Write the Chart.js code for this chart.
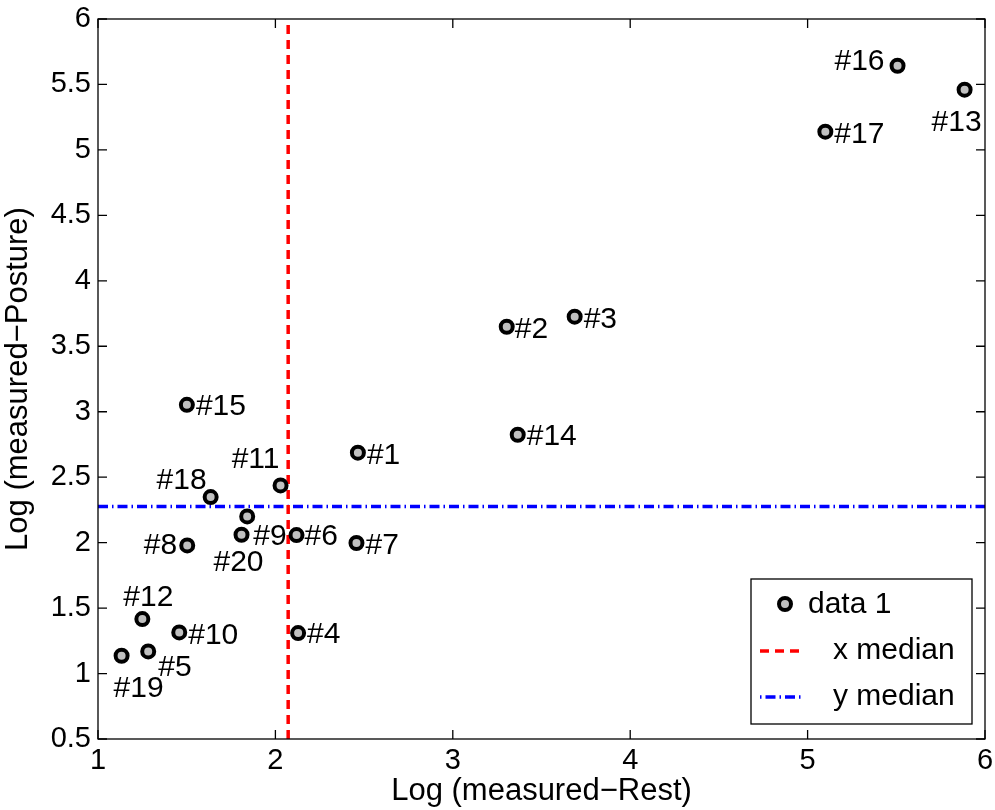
<!DOCTYPE html>
<html>
<head>
<meta charset="utf-8">
<script src="https://cdn.jsdelivr.net/npm/chart.js@4.4.1/dist/chart.umd.min.js"></script>
<style>
  html, body { margin: 0; padding: 0; background: #fff; }
  #wrap { width: 995px; height: 810px; }
</style>
</head>
<body>
<div id="wrap"><canvas id="chart" width="995" height="810"></canvas></div>
<script>
// 点のラベルとデータ
const pointNames = ['#1', '#2', '#3', '#4', '#5', '#6', '#7', '#8', '#9', '#10',
  '#11', '#12', '#13', '#14', '#15', '#16', '#17', '#18', '#19', '#20'];
const restValues = [2.465, 3.304, 3.687, 2.128, 1.283, 2.119, 2.457, 1.503, 1.841, 1.458,
  2.029, 1.250, 5.885, 3.366, 1.501, 5.507, 5.100, 1.635, 1.133, 1.809];
const postureValues = [2.687, 3.649, 3.726, 1.309, 1.169, 2.058, 1.997, 1.979, 2.200, 1.314,
  2.437, 1.416, 5.460, 2.824, 3.053, 5.643, 5.139, 2.348, 1.136, 2.060];
const xMedian = 2.072;
const yMedian = 2.276;
const xTicks = [1, 2, 3, 4, 5, 6];
const yTicks = [0.5, 1, 1.5, 2, 2.5, 3, 3.5, 4, 4.5, 5, 5.5, 6];
const seriesNames = ['data 1', 'x median', 'y median'];

// ラベルの置き方 (点からのずれ, px)
const labelPlace = {
  '#1': [9, 3, 'left'], '#2': [8, 3, 'left'], '#3': [9, 3, 'left'], '#4': [9, 2, 'left'],
  '#5': [10, 16, 'left'], '#6': [8, 2, 'left'], '#7': [9, 3, 'left'], '#8': [-10, 0, 'right'],
  '#9': [6, 20, 'left'], '#10': [9, 3, 'left'], '#11': [-25, -26, 'center'], '#12': [6, -21, 'center'],
  '#13': [-8, 33, 'center'], '#14': [9, 2, 'left'], '#15': [9, 2, 'left'], '#16': [-13, -4, 'right'],
  '#17': [9, 3, 'left'], '#18': [-29, -16, 'center'], '#19': [17, 33, 'center'], '#20': [-3, 28, 'center']
};

const FONT = '"Liberation Sans", Arial, Helvetica, sans-serif';

const scatterData = restValues.map((v, i) => ({ x: v, y: postureValues[i] }));

// 枠, 内向きの目盛, 点ラベル, 凡例を描く
const matlabPlugin = {
  id: 'matlabLook',
  afterDatasetsDraw(chart) {
    const ctx = chart.ctx;
    const a = chart.chartArea;
    const xs = chart.scales.x, ys = chart.scales.y;
    ctx.save();
    // point labels
    ctx.font = '30px ' + FONT;
    ctx.fillStyle = '#000';
    ctx.textBaseline = 'middle';
    scatterData.forEach((p, i) => {
      const name = pointNames[i];
      const pl = labelPlace[name];
      ctx.textAlign = pl[2];
      ctx.fillText(name, xs.getPixelForValue(p.x) + pl[0], ys.getPixelForValue(p.y) + pl[1]);
    });
    // box
    ctx.strokeStyle = '#000';
    ctx.lineWidth = 1.3;
    ctx.strokeRect(a.left, a.top, a.right - a.left, a.bottom - a.top);
    const tl = 9;
    ctx.beginPath();
    xTicks.forEach(v => {
      const px = xs.getPixelForValue(v);
      ctx.moveTo(px, a.bottom); ctx.lineTo(px, a.bottom - tl);
      ctx.moveTo(px, a.top); ctx.lineTo(px, a.top + tl);
    });
    yTicks.forEach(v => {
      const py = ys.getPixelForValue(v);
      ctx.moveTo(a.left, py); ctx.lineTo(a.left + tl, py);
      ctx.moveTo(a.right, py); ctx.lineTo(a.right - tl, py);
    });
    ctx.stroke();

    // legend
    const lx = a.right - 234, ly = a.bottom - 160, lw = 221, lh = 145;
    ctx.fillStyle = '#fff';
    ctx.fillRect(lx, ly, lw, lh);
    ctx.strokeStyle = '#000';
    ctx.lineWidth = 1.3;
    ctx.strokeRect(lx, ly, lw, lh);
    ctx.font = '30px ' + FONT;
    ctx.fillStyle = '#000';
    ctx.textAlign = 'left';
    // data 1
    ctx.beginPath();
    ctx.arc(lx + 34, ly + 25, 6, 0, Math.PI * 2);
    ctx.fillStyle = '#c0c0c0';
    ctx.fill();
    ctx.lineWidth = 4;
    ctx.strokeStyle = '#000';
    ctx.stroke();
    ctx.fillStyle = '#000';
    ctx.fillText(seriesNames[0], lx + 57, ly + 26);
    // x median
    ctx.lineWidth = 3.5;
    ctx.strokeStyle = '#ff0000';
    ctx.setLineDash([9, 6]);
    ctx.beginPath();
    ctx.moveTo(lx + 9, ly + 72); ctx.lineTo(lx + 52, ly + 72);
    ctx.stroke();
    ctx.fillText(seriesNames[1], lx + 82, ly + 72);
    // y median
    ctx.strokeStyle = '#0000ff';
    ctx.setLineDash([1.5, 4, 10, 4]);
    ctx.beginPath();
    ctx.moveTo(lx + 9, ly + 118); ctx.lineTo(lx + 52, ly + 118);
    ctx.stroke();
    ctx.setLineDash([]);
    ctx.fillText(seriesNames[2], lx + 82, ly + 118);
    ctx.restore();
  }
};

const ctx = document.getElementById('chart').getContext('2d');
new Chart(ctx, {
  type: 'scatter',
  data: {
    datasets: [
      {
        label: seriesNames[1],
        type: 'line',
        data: [{ x: xMedian, y: yTicks[0] }, { x: xMedian, y: yTicks[yTicks.length - 1] }],
        borderColor: '#ff0000',
        borderWidth: 3.5,
        borderDash: [9, 6],
        pointRadius: 0,
        fill: false,
        order: 2
      },
      {
        label: seriesNames[2],
        type: 'line',
        data: [{ x: xTicks[0], y: yMedian }, { x: xTicks[xTicks.length - 1], y: yMedian }],
        borderColor: '#0000ff',
        borderWidth: 3.5,
        borderDash: [10, 4, 1.5, 4],
        pointRadius: 0,
        fill: false,
        order: 2
      },
      {
        label: seriesNames[0],
        data: scatterData,
        pointRadius: 6,
        pointBorderWidth: 4,
        pointBackgroundColor: '#c0c0c0',
        pointBorderColor: '#000',
        pointHoverRadius: 6,
        order: 1
      }
    ]
  },
  options: {
    responsive: false,
    animation: false,
    layout: { padding: { left: 0, right: 10, top: 19, bottom: 0 } },
    plugins: {
      legend: { display: false },
      tooltip: { enabled: false }
    },
    scales: {
      x: {
        type: 'linear',
        min: xTicks[0],
        max: xTicks[xTicks.length - 1],
        afterBuildTicks: s => { s.ticks = xTicks.map(v => ({ value: v })); },
        afterFit: s => { s.height = 71; s.paddingLeft = 0; s.paddingRight = 0; },
        grid: { display: false, drawTicks: false },
        border: { display: false },
        ticks: { font: { family: FONT, size: 29 }, color: '#000', padding: 5, maxRotation: 0,
          callback: v => String(v) },
        title: {
          display: true, text: 'Log (measured\u2212Rest)',
          font: { family: FONT, size: 31 }, color: '#000', padding: { top: -7, bottom: 0 }
        }
      },
      y: {
        type: 'linear',
        min: yTicks[0],
        max: yTicks[yTicks.length - 1],
        afterBuildTicks: s => { s.ticks = yTicks.map(v => ({ value: v })); },
        afterFit: s => { s.width = 98; s.paddingTop = 0; s.paddingBottom = 0; },
        grid: { display: false, drawTicks: false },
        border: { display: false },
        ticks: { font: { family: FONT, size: 29 }, color: '#000', padding: 7,
          callback: v => String(v) },
        title: {
          display: true, text: 'Log (measured\u2212Posture)',
          font: { family: FONT, size: 31 }, color: '#000', padding: { top: 0, bottom: 4 }
        }
      }
    }
  },
  plugins: [matlabPlugin]
});
</script>
</body>
</html>
